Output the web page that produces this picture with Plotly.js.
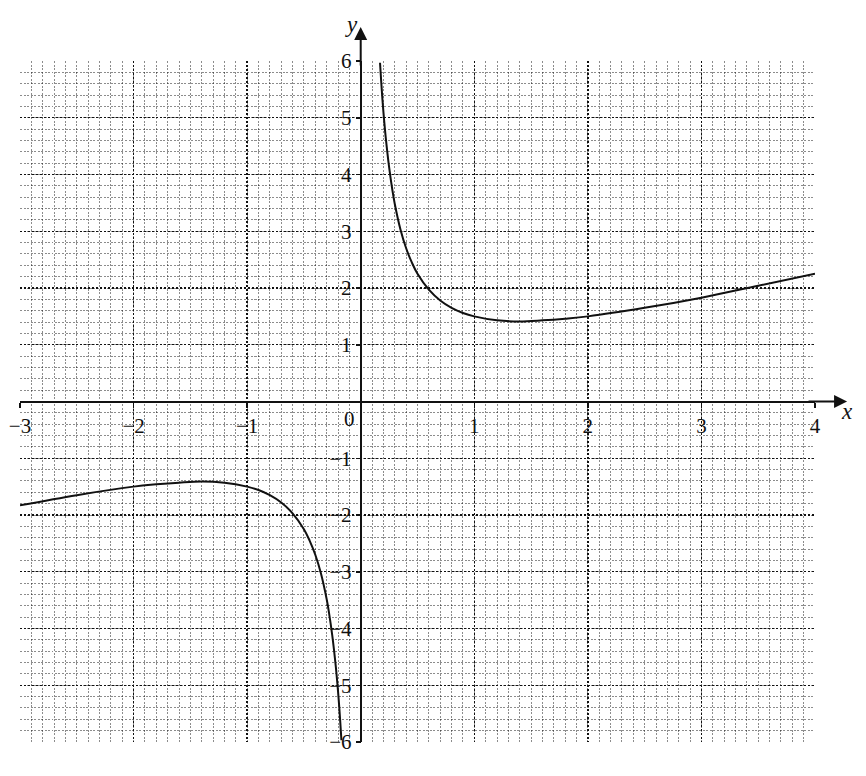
<!DOCTYPE html>
<html>
<head>
<meta charset="utf-8">
<script src="https://cdn.plot.ly/plotly-3.0.1.min.js"></script>
<style>
  html, body { margin: 0; padding: 0; background: #fff; }
  #chart { width: 866px; height: 776px; }
</style>
</head>
<body>
<div id="chart"></div>
<script>
// curve, right branch (x > 0)
const xRight = [0.17, 0.18, 0.19, 0.2, 0.22, 0.25, 0.28, 0.3, 0.35, 0.4, 0.45, 0.5, 0.6, 0.7, 0.8, 0.9, 1.0, 1.2, 1.4, 1.6, 1.8, 2.0, 2.5, 3.0, 3.5, 4.0];
const yRight = [5.97, 5.65, 5.36, 5.10, 4.66, 4.13, 3.71, 3.48, 3.03, 2.70, 2.45, 2.25, 1.97, 1.78, 1.65, 1.56, 1.50, 1.43, 1.41, 1.43, 1.46, 1.50, 1.65, 1.83, 2.04, 2.25];
// left branch (x < 0)
const xLeft = [-3.0, -2.5, -2.0, -1.8, -1.6, -1.4, -1.2, -1.0, -0.9, -0.8, -0.7, -0.6, -0.5, -0.45, -0.4, -0.35, -0.3, -0.28, -0.25, -0.22, -0.2, -0.19, -0.18, -0.17];
const yLeft = [-1.83, -1.65, -1.50, -1.46, -1.43, -1.41, -1.43, -1.50, -1.56, -1.65, -1.78, -1.97, -2.25, -2.45, -2.70, -3.03, -3.48, -3.71, -4.13, -4.66, -5.10, -5.36, -5.65, -5.97];

const xTicks = [-3, -2, -1, 1, 2, 3, 4];
const yTicks = [-6, -5, -4, -3, -2, -1, 1, 2, 3, 4, 5, 6];

const serif = "Liberation Serif";
const ink = "#111";
const curveLine = {color: ink, width: 2, shape: "spline", smoothing: 1};

const traces = [
  {x: xRight, y: yRight, type: "scatter", mode: "lines", line: curveLine, hoverinfo: "skip", cliponaxis: true},
  {x: xLeft, y: yLeft, type: "scatter", mode: "lines", line: curveLine, hoverinfo: "skip", cliponaxis: true}
];

// translucent minor lines so they don't wash out the major ones where they overlap
const majorGrid = {showgrid: true, gridcolor: ink, gridwidth: 1.3, griddash: "2px,2px"};
const minorGrid = {showgrid: true, gridcolor: "rgba(0,0,0,0.45)", gridwidth: 1, griddash: "2px,1.5px", ticks: ""};

const layout = {
  width: 866, height: 776,
  margin: {l: 20, r: 51, t: 61, b: 34},
  paper_bgcolor: "white", plot_bgcolor: "white",
  showlegend: false,
  font: {family: serif, size: 21, color: ink},
  xaxis: Object.assign({
    range: [-3, 4], anchor: "free", position: 0.5,
    tickmode: "array", tickvals: xTicks,
    ticks: "outside", ticklen: 5, tickwidth: 1.5, tickcolor: ink,
    showline: false, zeroline: true, zerolinecolor: ink, zerolinewidth: 2,
    minor: Object.assign({tickmode: "linear", tick0: 0, dtick: 0.1}, minorGrid),
    tickfont: {family: serif, size: 21, color: ink}, fixedrange: true
  }, majorGrid),
  yaxis: Object.assign({
    range: [-6, 6], anchor: "free", position: 3 / 7,
    tickmode: "array", tickvals: yTicks,
    ticks: "outside", ticklen: 5, tickwidth: 1.5, tickcolor: ink,
    showline: false, zeroline: true, zerolinecolor: ink, zerolinewidth: 2,
    minor: Object.assign({tickmode: "linear", tick0: 0, dtick: 0.2}, minorGrid),
    tickfont: {family: serif, size: 21, color: ink}, fixedrange: true
  }, majorGrid),
  annotations: [
    // axis arrows
    {xref: "paper", yref: "paper", x: 1.0403, y: 0.5, ax: -40, ay: 0, text: "",
     showarrow: true, arrowhead: 2, arrowsize: 1.3, arrowwidth: 2, arrowcolor: ink, standoff: 0},
    {xref: "x", yref: "paper", x: 0, y: 1.05, ax: 0, ay: 40, text: "",
     showarrow: true, arrowhead: 2, arrowsize: 1.3, arrowwidth: 2, arrowcolor: ink, standoff: 0},
    // axis names and origin
    {xref: "paper", yref: "paper", x: 1.0403, y: 0.4846, text: "<i>x</i>", showarrow: false,
     xanchor: "center", yanchor: "middle", font: {family: serif, size: 23, color: ink}},
    {xref: "paper", yref: "paper", x: 0.4164, y: 1.0529, text: "<i>y</i>", showarrow: false,
     xanchor: "center", yanchor: "middle", font: {family: serif, size: 23, color: ink}},
    {xref: "x", yref: "y", x: 0, y: 0, text: "0", showarrow: false,
     xanchor: "right", yanchor: "top", xshift: -4, yshift: -3, font: {family: serif, size: 21, color: ink}}
  ]
};

Plotly.newPlot("chart", traces, layout, {displayModeBar: false, staticPlot: true});
</script>
</body>
</html>
